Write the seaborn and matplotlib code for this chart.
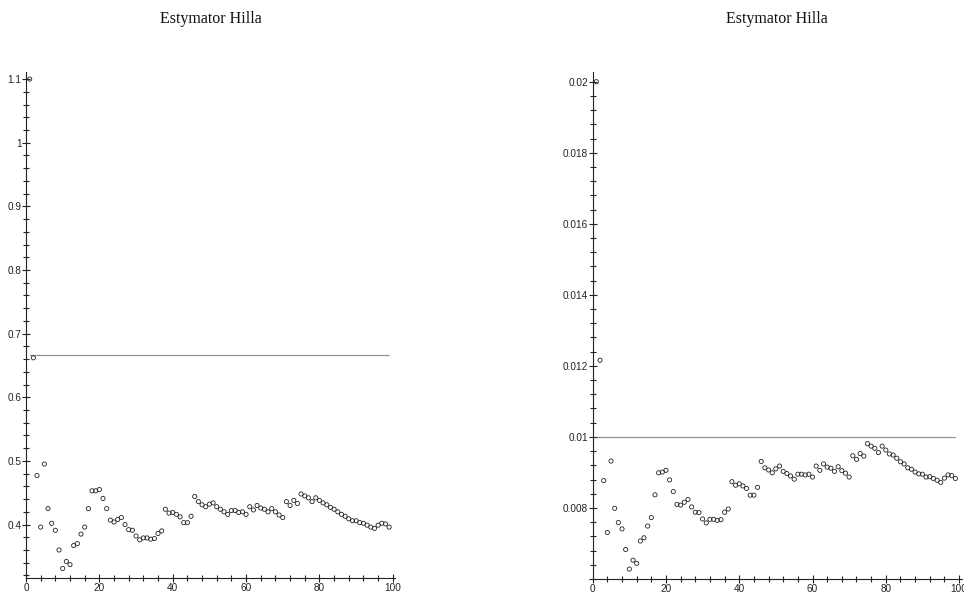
import numpy as np
import pandas as pd
import matplotlib
matplotlib.use("Agg")
import matplotlib.pyplot as plt
import seaborn as sns
from matplotlib.ticker import MultipleLocator, FuncFormatter

# number of upper order statistics used by the estimator
k = list(range(1, 100))

# Hill estimates, first sample
hill_a = [1.100, 0.662, 0.477, 0.396, 0.495, 0.425, 0.402, 0.391, 0.360, 0.331,
          0.342, 0.337, 0.367, 0.370, 0.385, 0.396, 0.425, 0.453, 0.453, 0.455,
          0.441, 0.425, 0.407, 0.404, 0.408, 0.411, 0.400, 0.392, 0.391, 0.382,
          0.376, 0.379, 0.379, 0.377, 0.378, 0.386, 0.390, 0.424, 0.418, 0.419,
          0.416, 0.412, 0.403, 0.403, 0.413, 0.444, 0.436, 0.431, 0.428, 0.432,
          0.434, 0.428, 0.424, 0.420, 0.416, 0.422, 0.422, 0.419, 0.420, 0.416,
          0.428, 0.423, 0.430, 0.426, 0.424, 0.420, 0.425, 0.420, 0.415, 0.411,
          0.436, 0.430, 0.438, 0.433, 0.448, 0.445, 0.442, 0.436, 0.442, 0.438,
          0.434, 0.431, 0.427, 0.424, 0.420, 0.416, 0.413, 0.409, 0.406, 0.406,
          0.403, 0.402, 0.399, 0.396, 0.394, 0.399, 0.402, 0.401, 0.396]
true_a = 2 / 3

# Hill estimates, second sample
hill_b = [0.02000, 0.01216, 0.00877, 0.00731, 0.00932, 0.00799, 0.00759, 0.00741, 0.00683, 0.00628,
          0.00653, 0.00644, 0.00707, 0.00716, 0.00749, 0.00773, 0.00837, 0.00899, 0.00901, 0.00906,
          0.00879, 0.00846, 0.00810, 0.00808, 0.00816, 0.00824, 0.00803, 0.00788, 0.00787, 0.00769,
          0.00758, 0.00768, 0.00768, 0.00765, 0.00767, 0.00788, 0.00797, 0.00874, 0.00864, 0.00868,
          0.00862, 0.00855, 0.00836, 0.00836, 0.00858, 0.00931, 0.00913, 0.00907, 0.00899, 0.00910,
          0.00918, 0.00903, 0.00897, 0.00890, 0.00881, 0.00895, 0.00895, 0.00893, 0.00895, 0.00887,
          0.00918, 0.00906, 0.00924, 0.00915, 0.00912, 0.00903, 0.00916, 0.00905, 0.00898, 0.00887,
          0.00947, 0.00937, 0.00953, 0.00946, 0.00981, 0.00974, 0.00968, 0.00956, 0.00974, 0.00963,
          0.00952, 0.00949, 0.00940, 0.00930, 0.00924, 0.00913, 0.00909, 0.00901, 0.00896, 0.00895,
          0.00887, 0.00888, 0.00883, 0.00878, 0.00872, 0.00884, 0.00893, 0.00891, 0.00883]
true_b = 0.01

title = "Estymator Hilla"

sns.set_style("ticks")
plt.rcParams["font.family"] = ["Liberation Sans", "DejaVu Sans"]

W, H = 964, 593
fig = plt.figure(figsize=(W / 100, H / 100), dpi=100)


def px_axes(left, right, top, bottom):
    return fig.add_axes([left / W, 1 - bottom / H, (right - left) / W, (bottom - top) / H])


def fmt(v, pos):
    return "%g" % round(v, 6)


panels = [
    dict(box=(26, 395, 72, 578), y=hill_a, ref=true_a, ylim=(0.3160, 1.1111),
         major=0.1, minor=0.02, xlim=(0, 100.6)),
    dict(box=(592.7, 962, 72, 579), y=hill_b, ref=true_b, ylim=(0.0060, 0.020273),
         major=0.002, minor=0.0004, xlim=(0, 100.8)),
]

for p in panels:
    ax = px_axes(*p["box"])
    df = pd.DataFrame({"k": k, "hill": p["y"]})
    sns.scatterplot(data=df, x="k", y="hill", ax=ax, marker="o", s=9,
                    color="black", linewidth=0.6, zorder=3, legend=False)
    coll = ax.collections[-1]
    coll.set_facecolor("none")
    coll.set_edgecolor("#222222")

    ax.hlines(p["ref"], k[0], k[-1], colors="#555555", linestyles=(0, (1, 0.6)),
              linewidth=0.9, zorder=2)

    ax.set_xlim(*p["xlim"])
    ax.set_ylim(*p["ylim"])
    ax.xaxis.set_major_locator(MultipleLocator(20))
    ax.xaxis.set_minor_locator(MultipleLocator(4))
    ax.yaxis.set_major_locator(MultipleLocator(p["major"]))
    ax.yaxis.set_minor_locator(MultipleLocator(p["minor"]))

    lo = p["ylim"][0]

    def yfmt(v, pos, lo=lo):
        if abs(v - lo) < 1e-9 or v < lo:
            return ""
        return "%g" % round(v, 6)

    ax.xaxis.set_major_formatter(FuncFormatter(fmt))
    ax.yaxis.set_major_formatter(FuncFormatter(yfmt))

    for side in ("top", "right"):
        ax.spines[side].set_visible(False)
    for side in ("left", "bottom"):
        ax.spines[side].set_color("#222222")
        ax.spines[side].set_linewidth(0.8)

    ax.tick_params(axis="both", which="both", bottom=True, left=True,
                   top=False, right=False)
    ax.tick_params(axis="both", which="major", direction="inout", length=5.5,
                   width=0.8, color="#222222", labelsize=7.2, labelcolor="#222222")
    ax.tick_params(axis="both", which="minor", direction="inout", length=4,
                   width=0.8, color="#222222")
    ax.tick_params(axis="x", which="major", pad=1.0)
    ax.tick_params(axis="y", which="major", pad=0.5)

    ax.set_xlabel("")
    ax.set_ylabel("")
    ax.patch.set_alpha(0)

    b = p["box"]
    ax.text(0.5, 1 + (b[2] - 19) / (b[3] - b[2]), title, transform=ax.transAxes,
            ha="center", va="center", fontsize=11.5, family="Liberation Serif",
            color="#111111")

fig.savefig("out.png", dpi=100, facecolor="white")
